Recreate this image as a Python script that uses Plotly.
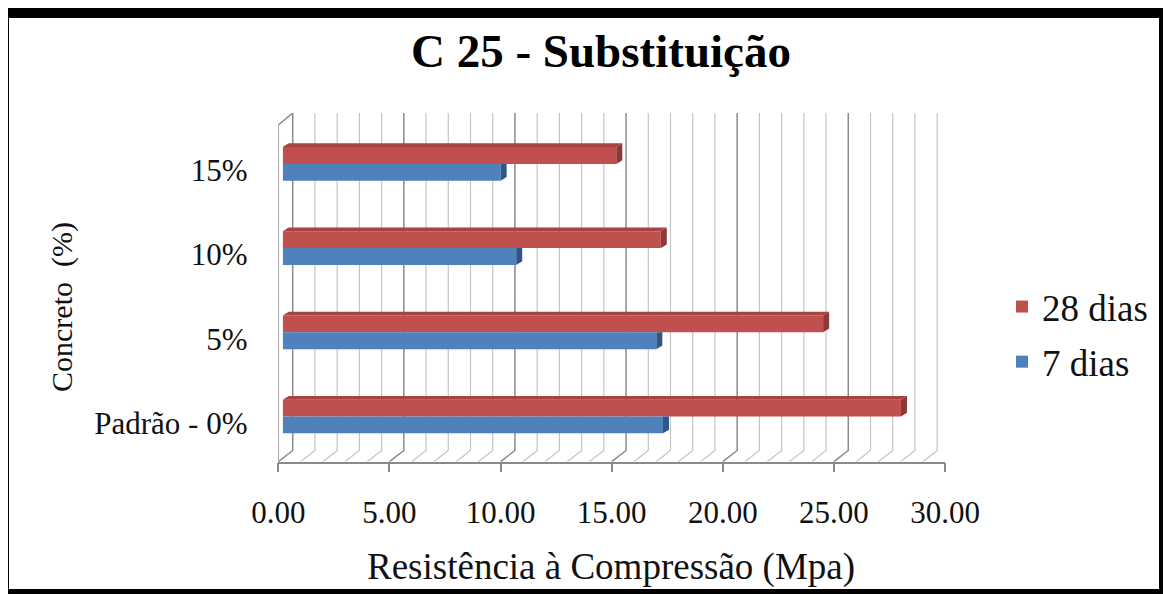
import plotly.graph_objects as go

# ---------------- data ----------------
categories = ["Padrão - 0%", "5%", "10%", "15%"]
dias_7 = [17.1, 16.8, 10.5, 9.8]
dias_28 = [27.8, 24.3, 17.0, 15.0]
x_ticks = [0, 5, 10, 15, 20, 25, 30]
series_names = ["28 dias", "7 dias"]

# ---------------- geometry (pixels of the 1171x594 page) ----------------
PAGE_OFF = 8                      # default body margin of the html page
W, H = 1171 - PAGE_OFF, 594 - PAGE_OFF
def fx(p): return (p - PAGE_OFF) / W
def fy(p): return 1 - (p - PAGE_OFF) / H

FRONT_X0, FRONT_X1 = 278.3, 945.0      # front floor edge (tick labels)
BACK_X0, BACK_X1 = 292.7, 960.0        # back wall
BAR_X0, BAR_X1 = 282.7, 949.9          # bar plane
FLOOR_FRONT_Y, FLOOR_BACK_Y, TOP_Y = 461.7, 450.5, 113.0
CAT0_Y, CAT_STEP = 416.5, 84.2
XMAX = 30

px_front = (FRONT_X1 - FRONT_X0) / XMAX
wall_off = (BACK_X0 - FRONT_X0) / px_front
floor_depth_px = FLOOR_FRONT_Y - FLOOR_BACK_Y
wall_top_front = FLOOR_FRONT_Y - 125.0
wall_top_back = FLOOR_FRONT_Y - TOP_Y

bar_h = 0.2
px_bar = (BAR_X1 - BAR_X0) / XMAX
depth_dx = 6.0 / px_bar
depth_dy = 3.7 / CAT_STEP

B_BOTTOM = 475.0
yb_lo = (CAT0_Y - B_BOTTOM) / CAT_STEP
yb_hi = (CAT0_Y - TOP_Y) / CAT_STEP
label_shift = 6.5 / CAT_STEP

RED, RED_SIDE, RED_TOP = "#C0504D", "#8C3836", "#A54441"
BLUE, BLUE_SIDE = "#4F81BD", "#2E5689"
MAJOR, MINOR = "#8a8a8a", "#c4c4c4"
SERIF = "Liberation Serif, Times New Roman, serif"
TXT = "#111111"

pos = list(range(len(categories)))

fig = go.Figure()

# ---------- subplot x/y : floor, left wall, back wall grid ----------
grid_steps = list(range(XMAX + 1))
for k in grid_steps:
    col = MAJOR if k % 5 == 0 else MINOR
    wid = 1.5 if k % 5 == 0 else 1.2
    fig.add_trace(go.Scatter(
        x=[k, k + wall_off, k + wall_off],
        y=[0, floor_depth_px, wall_top_back], mode="lines",
        line=dict(color=col, width=wid),
        xaxis="x", yaxis="y", showlegend=False, hoverinfo="skip", cliponaxis=False))
fig.add_trace(go.Scatter(
    x=[0, 0, wall_off], y=[0, wall_top_front, wall_top_back], mode="lines",
    line=dict(color=MAJOR, width=1.5), xaxis="x", yaxis="y",
    showlegend=False, hoverinfo="skip", cliponaxis=False))

# ---------- subplot x2/y2 : bars ----------
fig.add_trace(go.Bar(
    name=series_names[0], x=dias_28, y=pos, orientation="h",
    width=bar_h, offset=0, marker=dict(color=RED, line=dict(width=0)),
    xaxis="x2", yaxis="y2", legendgroup="a"))
fig.add_trace(go.Bar(
    name=series_names[1], x=dias_7, y=pos, orientation="h",
    width=bar_h, offset=-bar_h, marker=dict(color=BLUE, line=dict(width=0)),
    xaxis="x2", yaxis="y2", legendgroup="b"))

# 3D faces derived from the values
top_x, top_y, rside_x, rside_y, bside_x, bside_y = [], [], [], [], [], []
for i, v in zip(pos, dias_28):
    y0, y1 = i, i + bar_h
    top_x += [0, v, v + depth_dx, depth_dx, 0, None]
    top_y += [y1, y1, y1 + depth_dy, y1 + depth_dy, y1, None]
    rside_x += [v, v + depth_dx, v + depth_dx, v, v, None]
    rside_y += [y0, y0 + depth_dy, y1 + depth_dy, y1, y0, None]
for i, v in zip(pos, dias_7):
    y0, y1 = i - bar_h, i
    bside_x += [v, v + depth_dx, v + depth_dx, v, v, None]
    bside_y += [y0, y0 + depth_dy, y1, y1, y0, None]

for xs, ys, col in [(top_x, top_y, RED_TOP), (rside_x, rside_y, RED_SIDE),
                    (bside_x, bside_y, BLUE_SIDE)]:
    fig.add_trace(go.Scatter(
        x=xs, y=ys, mode="lines", fill="toself", fillcolor=col,
        line=dict(width=0, color=col), xaxis="x2", yaxis="y2",
        showlegend=False, hoverinfo="skip"))

# ---------------- layout ----------------
fig.update_layout(
    width=W, height=H, autosize=False,
    margin=dict(l=0, r=0, t=0, b=0),
    paper_bgcolor="white", plot_bgcolor="rgba(0,0,0,0)",
    template="none",
    barmode="overlay",
    font=dict(family=SERIF, color=TXT),
    title=dict(text="<b>C 25 - Substituição</b>", x=fx(601), xanchor="center",
               y=fy(51), yanchor="middle",
               font=dict(family=SERIF, size=47, color="#000000")),
    showlegend=True,
    legend=dict(x=fx(1002), y=fy(276), xanchor="left", yanchor="top",
                font=dict(family=SERIF, size=37, color=TXT),
                tracegroupgap=4, bgcolor="rgba(0,0,0,0)", itemwidth=30),
    xaxis=dict(domain=[fx(FRONT_X0), fx(FRONT_X1)], range=[0, XMAX],
               tickvals=x_ticks, tickformat=".2f", ticks="outside", ticklen=9,
               tickcolor=MAJOR, tickwidth=1.5, showline=True, linecolor=MAJOR,
               linewidth=1.5, showgrid=False, zeroline=False,
               ticklabelstandoff=13,
               tickfont=dict(family=SERIF, size=31, color=TXT), anchor="y"),
    yaxis=dict(domain=[fy(FLOOR_FRONT_Y), fy(TOP_Y)], range=[0, wall_top_back],
               visible=False, anchor="x"),
    xaxis2=dict(domain=[fx(BAR_X0), fx(BAR_X1)], range=[0, XMAX],
                visible=False, anchor="y2"),
    yaxis2=dict(domain=[fy(B_BOTTOM), fy(TOP_Y)], range=[yb_lo, yb_hi],
                tickvals=[p - label_shift for p in pos], ticktext=categories,
                ticks="outside", ticklen=28, tickcolor="rgba(0,0,0,0)",
                tickfont=dict(family=SERIF, size=31, color=TXT),
                showgrid=False, zeroline=False, showline=False, anchor="x2"),
    annotations=[
        dict(text="Resistência à Compressão (Mpa)", x=fx(611), y=fy(567),
             xref="paper", yref="paper", showarrow=False,
             xanchor="center", yanchor="middle",
             font=dict(family=SERIF, size=37, color=TXT)),
        dict(text="Concreto  (%)", x=fx(62), y=fy(307), textangle=-90,
             xref="paper", yref="paper", showarrow=False,
             xanchor="center", yanchor="middle",
             font=dict(family=SERIF, size=30, color=TXT)),
    ],
    shapes=[
        dict(type="rect", xref="paper", yref="paper", x0=0, x1=1, y0=fy(18), y1=1,
             fillcolor="black", line=dict(width=0)),
        dict(type="rect", xref="paper", yref="paper", x0=0, x1=fx(9), y0=0, y1=1,
             fillcolor="black", line=dict(width=0)),
        dict(type="rect", xref="paper", yref="paper", x0=fx(1159), x1=1, y0=0, y1=1,
             fillcolor="black", line=dict(width=0)),
        dict(type="rect", xref="paper", yref="paper", x0=0, x1=1, y0=0, y1=fy(589),
             fillcolor="black", line=dict(width=0)),
    ],
)

fig.write_html("out.html")
